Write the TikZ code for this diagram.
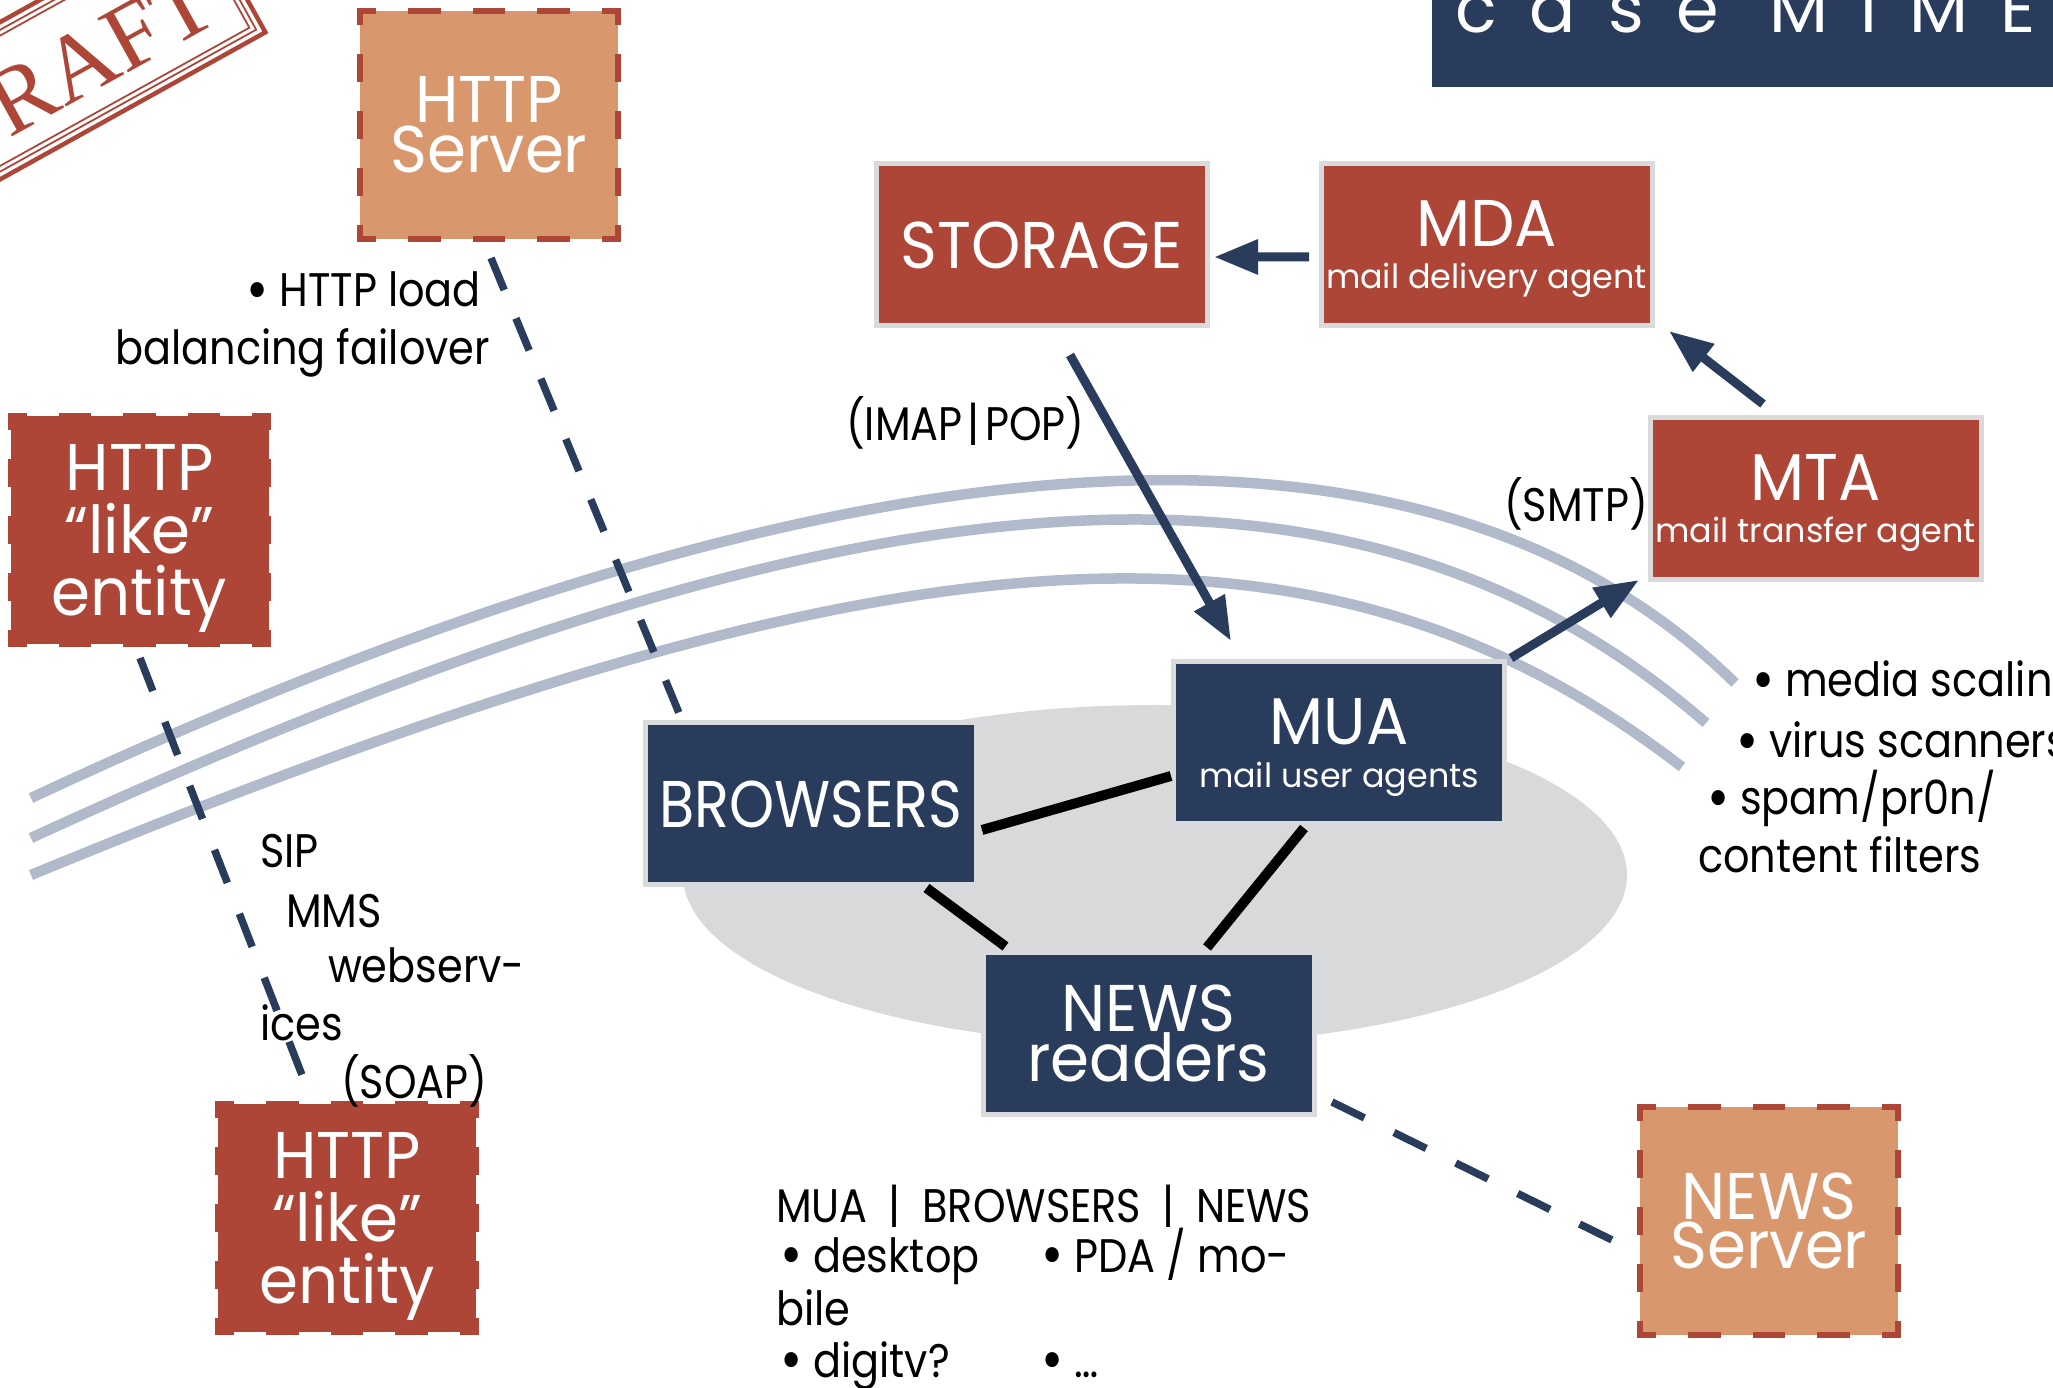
\documentclass[tikz,border=0pt]{standalone}
\usepackage{fontspec}
\setmainfont{Poppins}
\newfontfamily\lblf{Poppins}[FakeStretch=0.88]
\newfontfamily\boxf{Poppins}[FakeStretch=0.95]
\newfontfamily\titlef{Poppins}[LetterSpace=47]
\newfontfamily\stampf{Liberation Serif}
\usetikzlibrary{arrows.meta,calc}
\definecolor{boxred}{HTML}{AE4638}
\definecolor{boxtan}{HTML}{D9976E}
\definecolor{navy}{HTML}{2A3C5B}
\definecolor{rimgray}{HTML}{D9DADB}
\definecolor{ellgray}{HTML}{D8D9DB}
\definecolor{arcblue}{HTML}{B0BACB}
\newcommand\bxfont[1]{\boxf\fontsize{18.8pt}{#1}\selectfont\lineskiplimit=-100pt\relax}
\newcommand\subline[1]{\raisebox{0pt}[0pt][0pt]{\normalfont\fontsize{9.5pt}{9.5pt}\selectfont #1}}
\newcommand\nodp[1]{\raisebox{0pt}[\height][0pt]{#1}}
\newcommand\lblfont{\lblf\fontsize{13.4pt}{16pt}\selectfont}
\newcommand\bul{\raisebox{-0.07em}{\scalebox{1.3}{•}}}
\newcommand\boxdashes[1]{%
  \draw[hdash] (#1.north west) -- (#1.north east);
  \draw[hdash] (#1.south west) -- (#1.south east);
  \draw[vdash] (#1.north west) -- (#1.south west);
  \draw[vdash] (#1.north east) -- (#1.south east);}
\begin{document}
\begin{tikzpicture}[x=0.1mm, y=-0.1mm,
  solidbox/.style={rectangle, draw=rimgray, line width=0.5mm, minimum width=33.1mm, minimum height=16.2mm, inner sep=0pt, outer sep=0pt, align=center, text=white},
  redbox/.style={solidbox, fill=boxred},
  navybox/.style={solidbox, fill=navy},
  dashbox/.style={rectangle, minimum width=25.8mm, minimum height=22.8mm, inner sep=0pt, outer sep=0pt, align=center, text=white},
  hdash/.style={draw=boxred, line width=0.55mm, line cap=rect, dash pattern=on 2.675mm off 3.775mm, dash phase=1.3375mm},
  vdash/.style={draw=boxred, line width=0.55mm, line cap=rect, dash pattern=on 2.3mm off 3.4mm, dash phase=1.15mm},
  arr/.style={draw=navy, line width=0.9mm, -{Triangle[length=4.4mm,width=3.3mm]}},
  link/.style={draw=black, line width=1mm},
  dlink/.style={draw=navy, line width=0.75mm},
  arcline/.style={draw=arcblue, line width=1.05mm},
  lbl/.style={inner sep=0pt, outer sep=0pt, anchor=base west, font=\lblfont, text=black},
  lble/.style={lbl, anchor=base east}]
\useasboundingbox (0,0) rectangle (2053,1388);
\clip (0,0) rectangle (2053,1388);

% title bar
\fill[navy] (1432,0) rectangle (2053,87);
\node[anchor=base west, inner sep=0pt, text=white, font=\titlef\fontsize{19.5pt}{19.5pt}\selectfont] (title) at (1455,33) {case MIME};

% draft stamp
\begin{scope}[shift={(86,96)}, rotate=29]
  \draw[boxred, line width=0.45mm] (-187.75,-106.25) rectangle (187.75,31.25);
  \draw[boxred, line width=0.18mm] (-181,-99.5) rectangle (181,24.5);
  \draw[boxred, line width=0.18mm] (-176,-94.5) rectangle (176,19.5);
  \node[rotate=29, anchor=base, inner sep=0pt, text=boxred, font=\stampf\fontsize{27pt}{27pt}\selectfont] (stamp) at (0,0) {DRAFT};
\end{scope}

% ellipse
\fill[ellgray] (1155,875) ellipse [x radius=47.2mm, y radius=17mm];

% arcs
\draw[arcline] (31,798) .. controls (819,430) and (1414,368) .. (1735,683);
\draw[arcline] (31,838) .. controls (826,472) and (1340,405) .. (1706,723);
\draw[arcline] (31,875) .. controls (863.5,532) and (1302,474) .. (1682,767);

% solid boxes
\node[redbox, font=\bxfont{14pt}] (storage) at (1041.5,245) {STORAGE};
\node[redbox, font=\bxfont{12.2pt}] (mda) at (1486.5,244.5) {MDA\\\subline{mail delivery agent}};
\node[redbox, font=\bxfont{12.2pt}] (mta) at (1815.5,498.5) {MTA\\\subline{mail transfer agent}};
\node[navybox, font=\bxfont{12.2pt}] (mua) at (1339,743) {MUA\\\subline{mail user agents}};
\node[navybox, font=\bxfont{14pt}] (browsers) at (811,804) {\scalebox{0.915}[1]{BROWSERS}};
\node[navybox, font=\bxfont{14.2pt}] (newsreaders) at (1148.5,1033.5) {NEWS\\readers};

% dashed boxes
\node[dashbox, fill=boxtan, font=\bxfont{14.2pt}] (httpserver) at (489,125) {HTTP\\Server};
\boxdashes{httpserver}
\node[dashbox, fill=boxred, font=\bxfont{17.9pt}] (like1) at (139.5,530) {HTTP\\“like”\\\nodp{entity}};
\boxdashes{like1}
\node[dashbox, fill=boxred, font=\bxfont{17.9pt}] (like2) at (347,1218) {HTTP\\“like”\\\nodp{entity}};
\boxdashes{like2}
\node[dashbox, fill=boxtan, font=\bxfont{14.2pt}] (newsserver) at (1769,1221) {NEWS\\Server};
\boxdashes{newsserver}

% arrows
\draw[arr] ($(mda.center)+(-177.5,12.5)$) -- ($(storage.center)+(172.5,12)$);
\draw[arr] ($(mta.center)+(-52.5,-94.5)$) -- ($(mda.center)+(182.5,86.5)$);
\draw[arr] ($(storage.center)+(28.5,110)$) -- ($(mua.center)+(-108,-102)$);
\draw[arr] ($(mua.center)+(172,-85)$) -- ($(mta.center)+(-176.5,81.5)$);

% solid links
\draw[link] ($(browsers.center)+(171,26)$) -- ($(mua.center)+(-168,33)$);
\draw[link] ($(browsers.center)+(115.5,84)$) -- ($(newsreaders.center)+(-143,-87)$);
\draw[link] ($(mua.center)+(-35,85)$) -- ($(newsreaders.center)+(58.5,-86)$);

% dashed links
\draw[dlink, dash pattern=on 3.46mm off 3.07mm] ($(httpserver.center)+(2,133)$) -- ($(browsers.center)+(-132,-91)$);
\draw[dlink, dash pattern=on 3.54mm off 3.32mm] ($(like1.center)+(0.5,128)$) -- ($(like2.center)+(-45,-143)$);
\draw[dlink, dash pattern=on 3.6mm off 3.3mm] ($(newsreaders.center)+(183.5,68.5)$) -- ($(newsserver.center)+(-157,19)$);

% labels
\node[lble] (thl1) at (481,307) {\bul\ HTTP load};
\node[lble] (thl2) at (490,365) {balancing failover};
\node[lbl] (timap) at (846,441) {(IMAP\kern1.5pt|\kern1.5pt POP)};
\node[lbl] (tsmtp) at (1504,522) {(SMTP)};
\node[lbl] (tmedia) at (1752,697) {\bul\ media scaling};
\node[lbl] (tvirus) at (1736,758) {\bul\ virus scanners};
\node[lbl] (tspam) at (1707,815) {\bul\ spam/pr0n/};
\node[lbl] (tcontent) at (1698,873) {content filters};
\node[lbl] (tsip) at (260,868) {SIP};
\node[lbl] (tmms) at (286,927) {MMS};
\node[lbl] (twebs) at (328,983) {webserv-};
\node[lbl] (tices) at (260,1040) {ices};
\node[lbl] (tsoap) at (341,1098) {(SOAP)};
\node[lbl] (thead) at (776,1222) {MUA\hspace{0.22em} | \hspace{0.22em}BROWSERS\hspace{0.22em} | \hspace{0.22em}NEWS};
\node[lbl] (tdesk) at (780,1272) {\bul\ desktop};
\node[lbl] (tpda) at (1041,1272) {\bul\ PDA / mo-};
\node[lbl] (tbile) at (776,1325) {bile};
\node[lbl] (tdigi) at (780,1377) {\bul\ digitv?};
\node[lbl] (tetc) at (1041,1377) {\bul\ …};
\end{tikzpicture}
\end{document}
